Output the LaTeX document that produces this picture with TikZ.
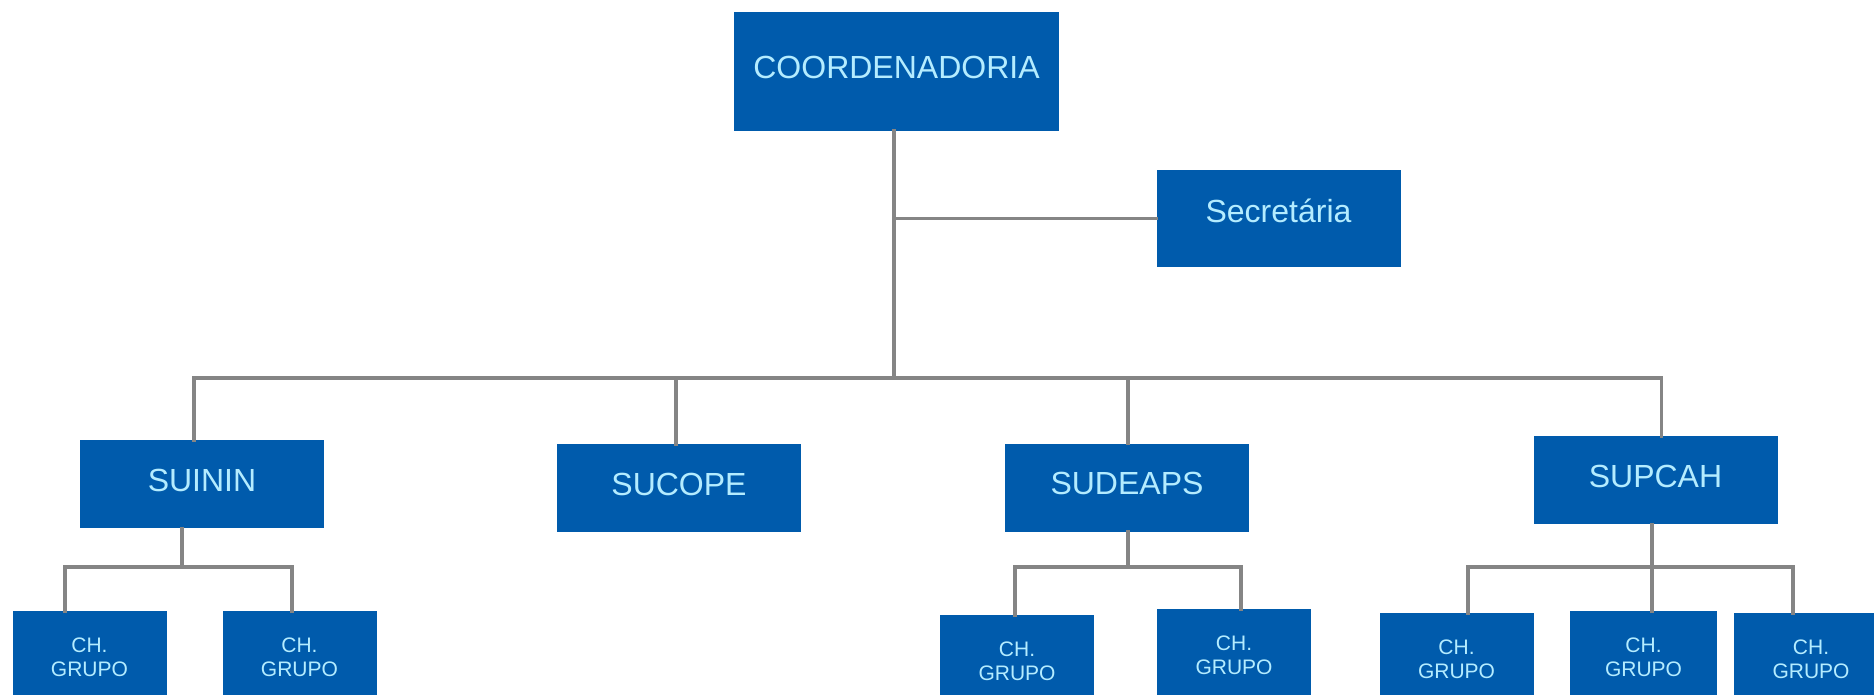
\documentclass[tikz,border=0pt]{standalone}
\usepackage{fontspec}
\setmainfont{Liberation Sans}
\definecolor{orgblue}{HTML}{005BAC}
\definecolor{orgtext}{HTML}{B4ECFF}
\definecolor{orgline}{HTML}{858585}
\begin{document}
\begin{tikzpicture}
[x=0.5pt,y=-0.5pt,
  unitdecorate/.style={shape=rectangle,fill=orgblue,text=orgtext,inner sep=0pt,
    minimum width=122pt,minimum height=44pt,text depth=4pt,font=\fontsize{16}{19}\selectfont},
  groupdecorate/.style={shape=rectangle,fill=orgblue,text=orgtext,inner sep=0pt,
    minimum width=77pt,minimum height=46pt,align=center,font=\fontsize{10.5}{12}\selectfont},
  linedecorate/.style={-,draw=orgline,line width=1.9pt,line cap=rect}]
\clip (0,0) rectangle (1874,695);
%% nodes or boxes
\node (coord) at (896.5,71.5) [unitdecorate,minimum width=162.5pt,minimum height=59.5pt] {COORDENADORIA};
\node (secr) at (1278.5,218.5) [unitdecorate,minimum height=48.5pt,text depth=8pt] {Secretária};
\foreach \nodename/\x/\y/\txt in {suinin/202/484/SUININ, sucope/679/488/SUCOPE,
    sudeaps/1127/487.5/SUDEAPS, supcah/1655.5/480/SUPCAH} {
  \node (\nodename) at (\x,\y) [unitdecorate] {\txt};
}
\foreach \nodename/\x/\y/\w in {g1/89.5/657/77, g2/299.5/657/77, g3/1017/661/77, g4/1234/655/77,
    g5/1456.5/659/77, g6/1643.5/657/73.5, g7/1811/659/77} {
  \node (\nodename) at (\x,\y) [groupdecorate,minimum width=\w pt] {CH.\\GRUPO};
}
%% edges or lines
\coordinate (bus) at (0,378);
\coordinate (subbus) at (0,567);
\coordinate (trunk) at ([shift={(-2.5,0)}]coord.south);
\draw[linedecorate] (trunk) -- (trunk |- bus);
\draw[linedecorate] (secr.west) -- (secr.west -| trunk);
\foreach \nodename/\dx in {suinin/-8, sucope/-3, sudeaps/1, supcah/6} {
  \coordinate (\nodename-top) at ([shift={(\dx,0)}]\nodename.north);
  \draw[linedecorate] (\nodename-top) -- (\nodename-top |- bus);
}
\draw[linedecorate] (suinin-top |- bus) -- (supcah-top |- bus);
\foreach \nodename/\dx in {suinin/-20, sudeaps/1, supcah/-3.5} {
  \coordinate (\nodename-bot) at ([shift={(\dx,0)}]\nodename.south);
  \draw[linedecorate] (\nodename-bot) -- (\nodename-bot |- subbus);
}
\foreach \nodename/\dx in {g1/-24.5, g2/-7.5, g3/-2, g4/7, g5/11.5, g6/8.5, g7/-18} {
  \coordinate (\nodename-top) at ([shift={(\dx,0)}]\nodename.north);
  \draw[linedecorate] (\nodename-top) -- (\nodename-top |- subbus);
}
\path
\foreach \startnode/\endnode in {g1/g2, g3/g4, g5/g7} {
  (\startnode-top |- subbus) edge[linedecorate] (\endnode-top |- subbus)
};
\end{tikzpicture}
\end{document}
